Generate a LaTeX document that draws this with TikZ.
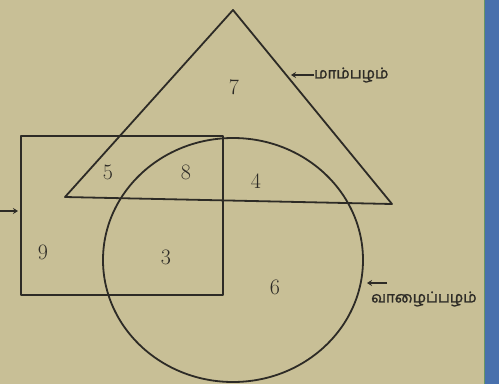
\documentclass[tikz,border=0pt]{standalone}
\usepackage{fontspec}
\usetikzlibrary{arrows.meta}
\newfontfamily\tamil[Script=Tamil,FakeBold=1.5]{Hind Madurai}
\definecolor{paper}{RGB}{200,191,150}
\definecolor{ink}{RGB}{45,43,38}
\definecolor{strip}{RGB}{72,112,172}
\begin{document}
\begin{tikzpicture}[x=1pt,y=-1pt,
  shape line/.style={draw=ink,line width=1.8pt,line join=round},
  num/.style={text=ink,font=\fontsize{22}{25}\selectfont,inner sep=0pt},
  tlabel/.style={text=ink,font=\tamil\fontsize{15}{17}\selectfont,inner sep=0pt,anchor=west},
  pointer/.style={draw=ink,line width=1.2pt,-{Stealth[length=5pt,width=6pt]}}]
\useasboundingbox (0,0) rectangle (499,384);
\fill[paper] (0,0) rectangle (499,384);
\fill[strip] (484,0) rectangle (499,384);
\draw[green!30!black!60,line width=0.6pt] (484,0) -- (484,384);
% shapes
\coordinate (apex) at (233,10);
\coordinate (bl) at (65,197);
\coordinate (br) at (392,204);
\draw[shape line] (apex) -- (bl) -- (br) -- cycle;
\draw[shape line] (21,136) rectangle (223,295);
\draw[shape line] (233,260) ellipse[x radius=130,y radius=122];
% numbers
\node[num] (n7) at (234,87) {7};
\node[num] (n5) at (108,172) {5};
\node[num] (n8) at (186,172) {8};
\node[num] (n4) at (256,181) {4};
\node[num] (n9) at (43,252) {9};
\node[num] (n3) at (166,257) {3};
\node[num] (n6) at (275,287) {6};
% labels
\node[tlabel] (mango) at (314,75) {மாம்பழம்};
\coordinate (mangotip) at (291,75);
\draw[pointer] (mango.west) -- (mangotip);
\node[tlabel] (banana) at (371,299) {வாழைப்பழம்};
\coordinate (bananastart) at (387,283);
\coordinate (bananatip) at (367,283);
\draw[pointer] (bananastart) -- (bananatip);
\coordinate (leftstart) at (0,211);
\coordinate (lefttip) at (18,211);
\draw[pointer] (leftstart) -- (lefttip);
\end{tikzpicture}
\end{document}
